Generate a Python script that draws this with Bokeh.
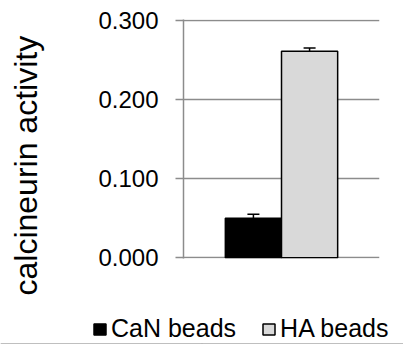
from bokeh.plotting import figure
from bokeh.layouts import column, row
from bokeh.models import (FactorRange, ColumnDataSource, Whisker, TeeHead, Legend,
                          LegendItem, Title, FixedTicker, PrintfTickFormatter, Range1d)
from bokeh.embed import file_html
from bokeh.resources import INLINE

categories = ["CaN beads", "HA beads"]
values = [0.050, 0.261]
errors = [0.005, 0.004]
colors = ["#000000", "#d9d9d9"]
y_ticks = [0.0, 0.1, 0.2, 0.3]

FONT = "Liberation Sans"
GRID = "#8c8c8c"

x = [("g", c) for c in categories]
src = ColumnDataSource(dict(
    x=x, cat=categories, top=values, color=colors,
    upper=[v + e for v, e in zip(values, errors)],
    lower=[v - e for v, e in zip(values, errors)],
))

p = figure(width=395, height=300, output_backend="svg", toolbar_location=None,
           x_range=FactorRange(*x, range_padding=0.745, group_padding=0, factor_padding=0),
           y_range=Range1d(-0.001, 0.301),
           min_border_left=180, min_border_right=16, min_border_top=19, min_border_bottom=42)
p.outline_line_color = None
p.xaxis.visible = False
p.xgrid.visible = False

p.ygrid.ticker = FixedTicker(ticks=y_ticks)
p.ygrid.grid_line_color = GRID
p.ygrid.grid_line_width = 1.5

ax = p.yaxis[0]
ax.ticker = FixedTicker(ticks=y_ticks)
ax.formatter = PrintfTickFormatter(format="%.3f")
ax.axis_line_color = GRID
ax.axis_line_width = 1.5
ax.major_tick_line_color = GRID
ax.major_tick_line_width = 1.5
ax.major_tick_out = 8
ax.major_tick_in = 0
ax.minor_tick_line_color = None
ax.major_label_text_font = FONT
ax.major_label_text_font_size = "24px"
ax.major_label_text_color = "#000000"
ax.major_label_standoff = 17

bar_kw = dict(x="x", top="top", width=1.0, bottom=0, source=src,
              fill_color="color", line_color="#000000", line_width=1.5)
r = p.vbar(**bar_kw)

w = Whisker(base="x", upper="upper", lower="lower", source=src,
            line_color="#000000", line_width=1.5,
            upper_head=TeeHead(size=12, line_width=1.5, line_color="#000000"),
            lower_head=TeeHead(size=12, line_width=1.5, line_color="#000000"))
p.add_layout(w)

spacer = Title(text=" ", text_font=FONT, text_font_size="31px")
p.add_layout(spacer, "left")
t = Title(text="calcineurin activity", align="left", offset=-37,
          text_font=FONT, text_font_size="32px", text_font_style="normal", text_color="#000000")
p.add_layout(t, "left")

# legend strip below the chart
lg = figure(width=403, height=44, output_backend="svg", toolbar_location=None,
            x_range=FactorRange(*x), y_range=Range1d(10, 11),
            min_border_left=0, min_border_right=0, min_border_top=0, min_border_bottom=0)
lg.outline_line_color = None
lg.axis.visible = False
lg.grid.visible = False
r2 = lg.vbar(**bar_kw)
legend = Legend(items=[LegendItem(label=c, renderers=[r2], index=i) for i, c in enumerate(categories)],
                orientation="horizontal", location=(92, 1),
                glyph_width=15, glyph_height=14, label_standoff=4, spacing=25,
                padding=0, margin=0, border_line_color=None, background_fill_alpha=0,
                label_text_font=FONT, label_text_font_size="25px", label_text_color="#000000")
lg.add_layout(legend, "center")

layout = column(p, row(lg), spacing=0)
open("out.html", "w").write(file_html(layout, INLINE))
